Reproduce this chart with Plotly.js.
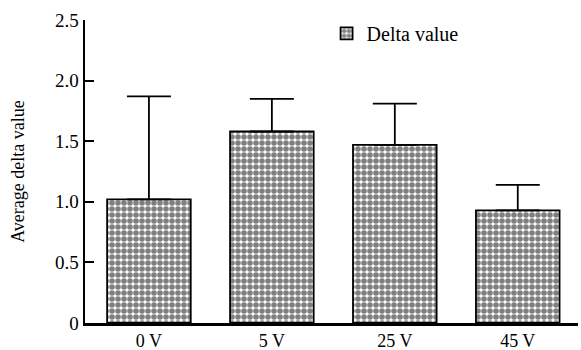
<!DOCTYPE html>
<html>
<head>
<meta charset="utf-8">
<script src="https://cdn.plot.ly/plotly-3.0.1.min.js"></script>
<style>html,body{margin:0;padding:0;background:#fff;}#chart{width:581px;height:350px;}</style>
</head>
<body>
<div id="chart"></div>
<script>
const categories = ["0 V", "5 V", "25 V", "45 V"];
const averageDelta = [1.02, 1.58, 1.47, 0.93];
const upperError = [0.85, 0.27, 0.34, 0.21];
const yTickValues = [0, 0.5, 1.0, 1.5, 2.0, 2.5];
const yTickLabels = ["0", "0.5", "1.0", "1.5", "2.0", "2.5"];

const serif = "Liberation Serif, Times New Roman, serif";
const tickFont = {family: serif, size: 19, color: "#000"};
const xTickFont = {family: serif, size: 18, color: "#000"};
const titleFont = {family: serif, size: 18, color: "#000"};
const legendFont = {family: serif, size: 20, color: "#000"};

const trace = {
  type: "bar",
  name: "Delta value",
  x: categories,
  y: averageDelta,
  width: 0.68,
  marker: {
    color: "#fff",
    line: {color: "#000", width: 1.8},
    pattern: {shape: ".", fgcolor: "#000", bgcolor: "#fff", size: 6, solidity: 0.68, fillmode: "overlay"}
  },
  error_y: {
    type: "data",
    symmetric: false,
    array: upperError,
    arrayminus: upperError.map(() => 0),
    color: "#000",
    thickness: 1.8,
    width: 22
  }
};

const layout = {
  width: 581,
  height: 350,
  margin: {l: 85, r: 3, t: 20, b: 27},
  paper_bgcolor: "#fff",
  plot_bgcolor: "#fff",
  font: tickFont,
  showlegend: true,
  legend: {
    x: 0.49, y: 1.02, xanchor: "left", yanchor: "top",
    font: legendFont, bgcolor: "rgba(0,0,0,0)", borderwidth: 0
  },
  xaxis: {
    range: [-0.52, 3.49],
    showline: true, linecolor: "#000", linewidth: 2.5,
    ticks: "", showgrid: false, zeroline: false,
    tickfont: xTickFont
  },
  yaxis: {
    range: [0, 2.5],
    tickvals: yTickValues, ticktext: yTickLabels,
    showline: true, linecolor: "#000", linewidth: 2.5,
    ticks: "inside", ticklen: 9, tickwidth: 2, tickcolor: "#000",
    showgrid: false, zeroline: false,
    tickfont: tickFont,
    title: {text: "Average delta value", font: titleFont, standoff: 26}
  }
};

Plotly.newPlot("chart", [trace], layout, {displayModeBar: false, staticPlot: true});
</script>
</body>
</html>
